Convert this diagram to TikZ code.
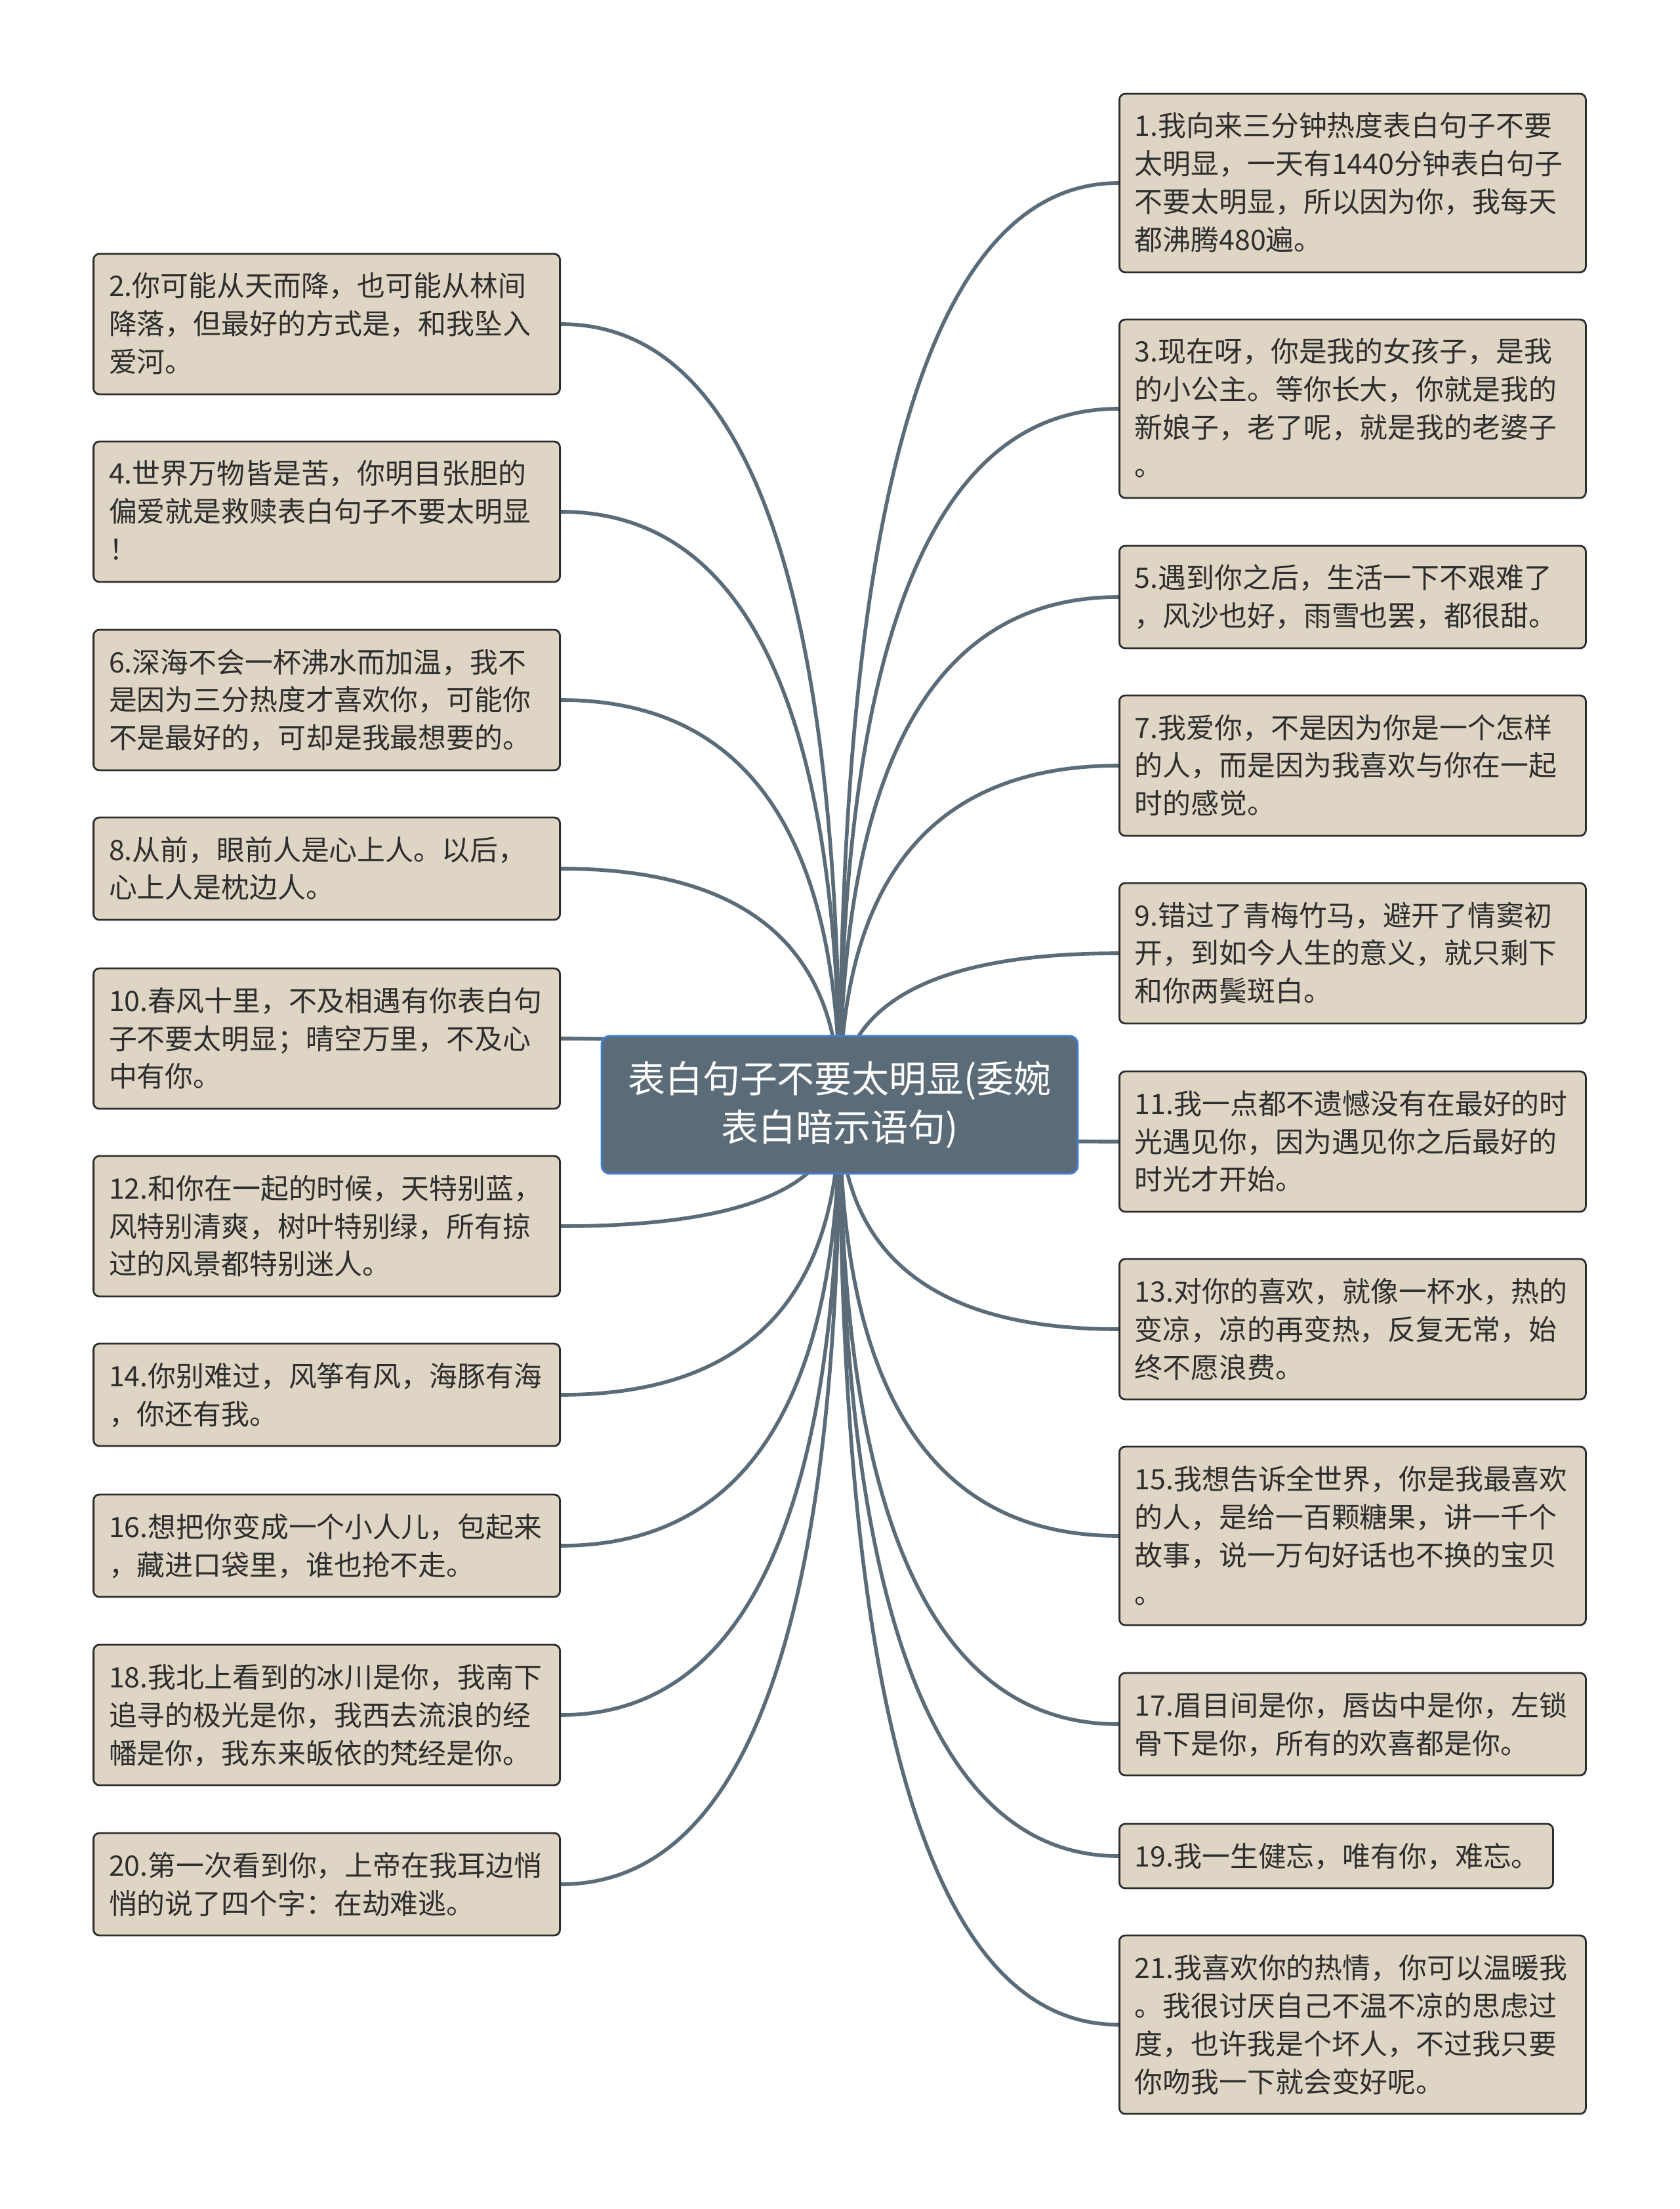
\documentclass[tikz,border=0pt]{standalone}
\usepackage{fontspec}
\setmainfont{Noto Sans CJK SC}
\usetikzlibrary{calc,backgrounds}

\definecolor{beige}{HTML}{DFD5C4}
\definecolor{edge}{HTML}{2E2E2E}
\definecolor{slate}{HTML}{5B6C78}
\definecolor{glow}{HTML}{3F7FD9}

\begin{document}
\begin{tikzpicture}[
    root/.style={draw=glow, line width=0.8pt, fill=slate, rounded corners=3.5pt,
        text=white, align=center, minimum width=7.26cm, minimum height=2.10cm,
        font=\fontsize{16.2pt}{20.8pt}\selectfont},
    leaf/.style={draw=edge, line width=0.8pt, fill=beige, rounded corners=2.5pt,
        text=edge, align=left, text width=6.64cm, inner xsep=0.235cm, inner ysep=0.2cm,
        font=\fontsize{12.2pt}{16.5pt}\selectfont,
        execute at begin node=\rule{0pt}{12.8pt},
        execute at end node=\rule[-3.7pt]{0pt}{3.7pt}},
    link/.style={draw=slate, line width=1.6pt}
]
\useasboundingbox (0,0) rectangle (25.6,-33.67);

% Temat
\node[root] (root) at (12.80,-16.84) {表白句子不要太明显(委婉\\表白暗示语句)};

% Prawa strona
\node[leaf, anchor=west] (n1) at (17.05,-2.79) {1.我向来三分钟热度表白句子不要\\太明显，一天有1440分钟表白句子\\不要太明显，所以因为你，我每天\\都沸腾480遍。};
\node[leaf, anchor=west] (n3) at (17.05,-6.23) {3.现在呀，你是我的女孩子，是我\\的小公主。等你长大，你就是我的\\新娘子，老了呢，就是我的老婆子\\。};
\node[leaf, anchor=west] (n5) at (17.05,-9.10) {5.遇到你之后，生活一下不艰难了\\，风沙也好，雨雪也罢，都很甜。};
\node[leaf, anchor=west] (n7) at (17.05,-11.67) {7.我爱你，不是因为你是一个怎样\\的人，而是因为我喜欢与你在一起\\时的感觉。};
\node[leaf, anchor=west] (n9) at (17.05,-14.53) {9.错过了青梅竹马，避开了情窦初\\开，到如今人生的意义，就只剩下\\和你两鬓斑白。};
\node[leaf, anchor=west] (n11) at (17.05,-17.40) {11.我一点都不遗憾没有在最好的时\\光遇见你，因为遇见你之后最好的\\时光才开始。};
\node[leaf, anchor=west] (n13) at (17.05,-20.26) {13.对你的喜欢，就像一杯水，热的\\变凉，凉的再变热，反复无常，始\\终不愿浪费。};
\node[leaf, anchor=west] (n15) at (17.05,-23.41) {15.我想告诉全世界，你是我最喜欢\\的人，是给一百颗糖果，讲一千个\\故事，说一万句好话也不换的宝贝\\。};
\node[leaf, anchor=west] (n17) at (17.05,-26.28) {17.眉目间是你，唇齿中是你，左锁\\骨下是你，所有的欢喜都是你。};
\node[leaf, anchor=west, text width=6.14cm] (n19) at (17.05,-28.29) {19.我一生健忘，唯有你，难忘。};
\node[leaf, anchor=west] (n21) at (17.05,-30.86) {21.我喜欢你的热情，你可以温暖我\\。我很讨厌自己不温不凉的思虑过\\度，也许我是个坏人，不过我只要\\你吻我一下就会变好呢。};

% Lewa strona
\node[leaf, anchor=east] (n2) at (8.55,-4.94) {2.你可能从天而降，也可能从林间\\降落，但最好的方式是，和我坠入\\爱河。};
\node[leaf, anchor=east] (n4) at (8.55,-7.80) {4.世界万物皆是苦，你明目张胆的\\偏爱就是救赎表白句子不要太明显\\！};
\node[leaf, anchor=east] (n6) at (8.55,-10.67) {6.深海不会一杯沸水而加温，我不\\是因为三分热度才喜欢你，可能你\\不是最好的，可却是我最想要的。};
\node[leaf, anchor=east] (n8) at (8.55,-13.24) {8.从前，眼前人是心上人。以后，\\心上人是枕边人。};
\node[leaf, anchor=east] (n10) at (8.55,-15.83) {10.春风十里，不及相遇有你表白句\\子不要太明显；晴空万里，不及心\\中有你。};
\node[leaf, anchor=east] (n12) at (8.55,-18.69) {12.和你在一起的时候，天特别蓝，\\风特别清爽，树叶特别绿，所有掠\\过的风景都特别迷人。};
\node[leaf, anchor=east] (n14) at (8.55,-21.26) {14.你别难过，风筝有风，海豚有海\\，你还有我。};
\node[leaf, anchor=east] (n16) at (8.55,-23.56) {16.想把你变成一个小人儿，包起来\\，藏进口袋里，谁也抢不走。};
\node[leaf, anchor=east] (n18) at (8.55,-26.14) {18.我北上看到的冰川是你，我南下\\追寻的极光是你，我西去流浪的经\\幡是你，我东来皈依的梵经是你。};
\node[leaf, anchor=east] (n20) at (8.55,-28.72) {20.第一次看到你，上帝在我耳边悄\\悄的说了四个字：在劫难逃。};

% Gałęzie (pod spodem)
\begin{scope}[on background layer]
\foreach \i in {1,3,...,21} {
    \draw[link] (root.center) .. controls ($(root.center)!.667!(root.center |- n\i.west)$)
        and ($(n\i.west)!.667!(root.center |- n\i.west)$) .. (n\i.west);
}
\foreach \i in {2,4,...,20} {
    \draw[link] (root.center) .. controls ($(root.center)!.667!(root.center |- n\i.east)$)
        and ($(n\i.east)!.667!(root.center |- n\i.east)$) .. (n\i.east);
}
\end{scope}
\end{tikzpicture}
\end{document}
